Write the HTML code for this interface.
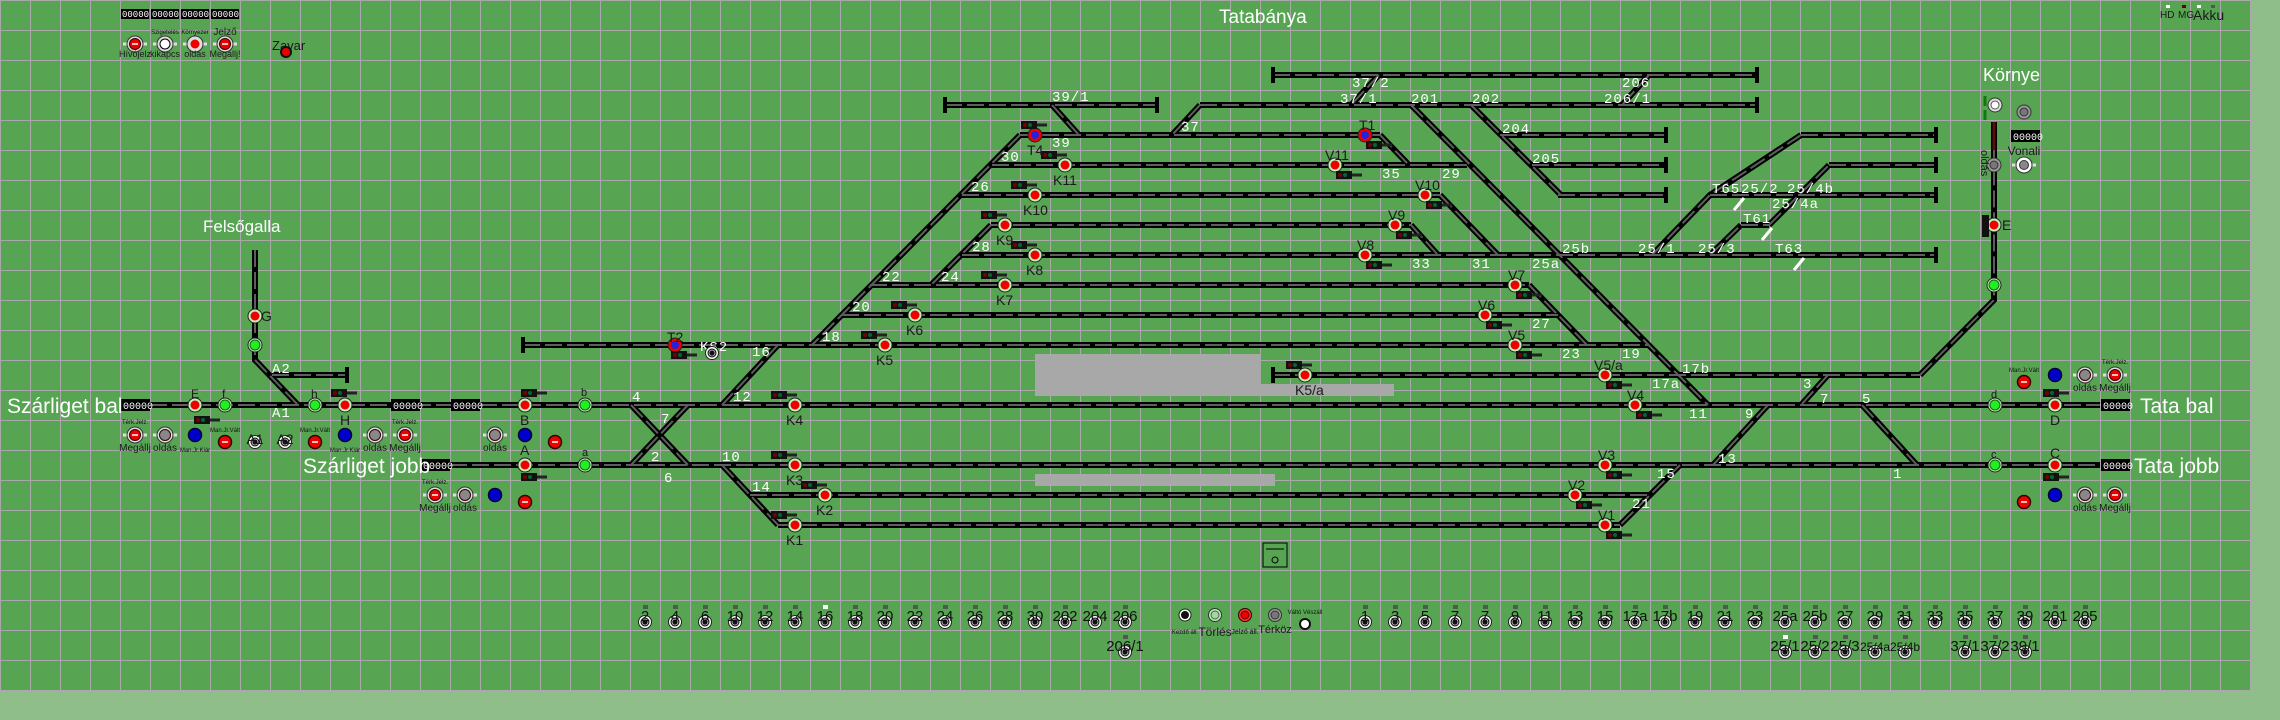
<!DOCTYPE html>
<html><head><meta charset="utf-8"><style>
html,body{margin:0;padding:0;background:#8fbe8a;width:2280px;height:720px;overflow:hidden}
svg{display:block}
.w{fill:#fff;font-family:"Liberation Mono",monospace;font-size:14px;letter-spacing:1px}
.s{fill:#1a1a1a;font-family:"Liberation Sans",sans-serif;font-size:14px}
.n{fill:#111;font-family:"Liberation Sans",sans-serif;font-size:15px;text-anchor:middle}
.t{fill:#111;font-family:"Liberation Sans",sans-serif;font-size:6px;text-anchor:middle}
.L{fill:#fff;font-family:"Liberation Sans",sans-serif;font-size:21px}
.c{fill:#fff;font-family:"Liberation Mono",monospace;font-size:10px}
</style></head><body>
<svg width="2280" height="720" viewBox="0 0 2280 720" xmlns="http://www.w3.org/2000/svg">
<defs>
<pattern id="gp" width="30" height="30" patternUnits="userSpaceOnUse">
<rect width="30" height="30" fill="#57a553"/>
<path d="M0 0H30M0 0V30" stroke="#a9a9a9" stroke-width="2" fill="none"/>
</pattern>
<g id="trk" fill="none">
<path d="M150 405H2100M450 465H2100M1273 75H1757M945 105H1157M1200 105H1757M1020 135H1380M1500 135H1666M1801 135H1936M992 165H1467M1532 165H1666M1829 165H1936M962 195H1440M1558 195H1666M1710 195H1936M991 225H1411M1741 225H1769M962 255H1936M870 285H1529M842 315H1558M523 345H1648M1273 375H1920M272 375H347M750 495H1650M778 525H1620"/>
<path d="M1052 105L1079 135M1200 105L1172 135M1379 75L1351 105M1649 75L1622 105M1020 135L812 345M991 225L931 285M778 345L722 405M1380 135L1409 165M1411 105L1708 405M1471 105L1561 195M1440 195L1498 255M1411 225L1438 255M1529 285L1587 345M1652 255L1710 195L1801 135M1710 255L1741 225M1769 225L1829 165M1920 375L1994 300V122M1828 375L1801 405M1768 405L1713 465M1862 405L1917 465M1680 465L1620 525M722 465L778 525M631 405L688 465M688 405L631 465M255 250V360L298 405"/>
</g>
<g id="sr"><circle r="7" fill="#bff0b8" stroke="#222" stroke-width="1"/><circle r="4.5" fill="#e00"/></g>
<g id="sg"><circle r="7" fill="#bff0b8" stroke="#222" stroke-width="1"/><circle r="5" fill="#2e2" stroke="#161" stroke-width="1"/></g>
<g id="sb"><circle r="7" fill="#e00" stroke="#222" stroke-width="1"/><circle r="4" fill="#22d"/></g>
<g id="hd"><rect x="-9" y="-4" width="16" height="8" fill="#111"/><rect x="7" y="-1.5" width="10" height="3" fill="#222"/><circle cx="-5" cy="0" r="2" fill="#700"/><circle cx="0" cy="0" r="2" fill="#063"/></g>
<g id="bt"><circle r="6.5" fill="#fff" stroke="#222" stroke-width="1"/><circle r="4.5" fill="#111"/><circle r="3" fill="none" stroke="#ccc" stroke-width="0.8"/></g>
<g id="rs"><path d="M-12 0H12" stroke="#ddd" stroke-width="3"/><circle r="8" fill="#ddd" stroke="#333" stroke-width="1"/><circle r="5.5" fill="#e00" stroke="#300" stroke-width="1"/><path d="M-3 0H3" stroke="#fff" stroke-width="1.5"/></g>
<g id="gs"><path d="M-12 0H12" stroke="#ddd" stroke-width="3"/><circle r="8" fill="#ddd" stroke="#333" stroke-width="1"/><circle r="5.5" fill="#888" stroke="#300" stroke-width="1"/></g>
<g id="bl"><circle r="6.5" fill="#00c" stroke="#003" stroke-width="1.5"/></g>
<g id="rr"><circle r="6.5" fill="#e00" stroke="#300" stroke-width="1.5"/><path d="M-3 0H3" stroke="#fff" stroke-width="1.5"/></g>
</defs>
<rect x="0" y="0" width="2251" height="691" fill="url(#gp)"/>
<rect x="0" y="690" width="2251" height="1" fill="#a9a9a9"/>
<rect x="2250" y="0" width="1" height="691" fill="#a9a9a9"/>

<rect x="1035" y="354" width="226" height="42" fill="#a8a8a8"/>
<rect x="1261" y="384" width="133" height="12" fill="#a8a8a8"/>
<rect x="1035" y="474" width="240" height="12" fill="#a8a8a8"/>

<use href="#trk" stroke="#000" stroke-width="6"/>
<use href="#trk" stroke="#5e5e5e" stroke-width="2" stroke-dasharray="17 5"/>
<path d="M1994 122V150" stroke="#5a0e0e" stroke-width="3"/>

<g fill="#000">
<rect x="1271" y="67" width="4" height="16"/><rect x="1755" y="67" width="4" height="16"/>
<rect x="943" y="97" width="4" height="16"/><rect x="1155" y="97" width="4" height="16"/><rect x="1755" y="97" width="4" height="16"/>
<rect x="1664" y="127" width="4" height="16"/><rect x="1934" y="127" width="4" height="16"/>
<rect x="1664" y="157" width="4" height="16"/><rect x="1934" y="157" width="4" height="16"/>
<rect x="1664" y="187" width="4" height="16"/><rect x="1934" y="187" width="4" height="16"/>
<rect x="1934" y="247" width="4" height="16"/>
<rect x="521" y="337" width="4" height="16"/><rect x="1271" y="367" width="4" height="16"/><rect x="345" y="367" width="4" height="16"/>
</g>

<g fill="#000">
<rect x="121" y="399" width="29" height="12"/><rect x="391" y="399" width="29" height="12"/><rect x="451" y="399" width="29" height="12"/>
<rect x="421" y="459" width="29" height="12"/><rect x="2101" y="399" width="29" height="12"/><rect x="2101" y="459" width="29" height="12"/>
<rect x="121" y="9" width="28" height="10"/><rect x="151" y="9" width="28" height="10"/><rect x="181" y="9" width="28" height="10"/><rect x="211" y="9" width="28" height="10"/>
<rect x="2011" y="130" width="29" height="12"/>
</g>
<g class="c">
<text x="123" y="409">00000</text><text x="393" y="409">00000</text><text x="453" y="409">00000</text><text x="423" y="469">00000</text>
<text x="2103" y="409">00000</text><text x="2103" y="469">00000</text><text x="2013" y="140">00000</text>
<text x="122" y="17" style="font-size:9px">00000</text><text x="152" y="17" style="font-size:9px">00000</text><text x="182" y="17" style="font-size:9px">00000</text><text x="212" y="17" style="font-size:9px">00000</text>
</g>

<text class="L" x="7" y="413">Szárliget bal</text>
<text class="L" x="303" y="473">Szárliget jobb</text>
<text class="L" x="2140" y="413">Tata bal</text>
<text class="L" x="2134" y="473">Tata jobb</text>
<text class="L" x="1219" y="23" style="font-size:19px">Tatabánya</text>
<text class="L" x="1983" y="81" style="font-size:18px">Környe</text>
<text class="L" x="203" y="232" style="font-size:17px">Felsőgalla</text>

<g class="w">
<text x="272" y="373">A2</text><text x="272" y="417">A1</text>
<text x="632" y="401">4</text><text x="661" y="423">7</text><text x="651" y="461">2</text><text x="664" y="482">6</text>
<text x="733" y="401">12</text><text x="722" y="461">10</text><text x="752" y="491">14</text><text x="752" y="356">16</text>
<text x="822" y="341">18</text><text x="852" y="311">20</text><text x="882" y="281">22</text><text x="941" y="281">24</text>
<text x="972" y="251">28</text><text x="971" y="191">26</text><text x="1001" y="161">30</text><text x="1052" y="147">39</text>
<text x="1052" y="101">39/1</text><text x="1181" y="131">37</text><text x="1352" y="87">37/2</text><text x="1340" y="103">37/1</text>
<text x="1411" y="103">201</text><text x="1472" y="103">202</text><text x="1502" y="133">204</text><text x="1532" y="163">205</text>
<text x="1382" y="178">35</text><text x="1442" y="178">29</text><text x="1412" y="268">33</text><text x="1472" y="268">31</text>
<text x="1532" y="268">25a</text><text x="1562" y="253">25b</text><text x="1532" y="328">27</text><text x="1562" y="358">23</text>
<text x="1622" y="358">19</text><text x="1682" y="373">17b</text><text x="1652" y="388">17a</text><text x="1689" y="418">11</text>
<text x="1745" y="418">9</text><text x="1803" y="388">3</text><text x="1820" y="403">7</text><text x="1862" y="403">5</text>
<text x="1718" y="463">13</text><text x="1657" y="478">15</text><text x="1893" y="478">1</text><text x="1632" y="508">21</text>
<text x="1622" y="87">206</text><text x="1604" y="103">206/1</text>
<text x="1638" y="253">25/1</text><text x="1698" y="253">25/3</text><text x="1741" y="193">25/2</text><text x="1787" y="193">25/4b</text><text x="1772" y="208">25/4a</text>
<text x="1712" y="193">T65</text><text x="1743" y="223">T61</text><text x="1775" y="253">T63</text>
<text x="700" y="351">KS2</text>
</g>
<g stroke="#fff" stroke-width="3"><path d="M1744 198L1734 210M1772 228L1762 240M1804 258L1794 270"/></g>

<use href="#sr" x="195" y="405"/><use href="#hd" x="203" y="420"/>
<use href="#sg" x="225" y="405"/><use href="#sg" x="315" y="405"/>
<use href="#sr" x="345" y="405"/><use href="#hd" x="340" y="393"/>
<use href="#sr" x="255" y="316"/><use href="#sg" x="255" y="345"/>
<use href="#sr" x="525" y="405"/><use href="#hd" x="530" y="393"/><use href="#sg" x="585" y="405"/>
<use href="#sr" x="525" y="465"/><use href="#hd" x="530" y="477"/><use href="#sg" x="585" y="465"/>
<use href="#sb" x="675" y="345"/><use href="#hd" x="680" y="355"/><use href="#bt" x="712" y="353"/>
<use href="#sr" x="885" y="345"/><use href="#hd" x="870" y="335"/>
<use href="#sr" x="795" y="405"/><use href="#hd" x="780" y="395"/>
<use href="#sr" x="795" y="465"/><use href="#hd" x="780" y="455"/>
<use href="#sr" x="825" y="495"/><use href="#hd" x="810" y="485"/>
<use href="#sr" x="795" y="525"/><use href="#hd" x="780" y="515"/>
<use href="#sr" x="915" y="315"/><use href="#hd" x="900" y="305"/>
<use href="#sr" x="1005" y="285"/><use href="#hd" x="990" y="275"/>
<use href="#sr" x="1035" y="255"/><use href="#hd" x="1020" y="245"/>
<use href="#sr" x="1005" y="225"/><use href="#hd" x="990" y="215"/>
<use href="#sr" x="1035" y="195"/><use href="#hd" x="1020" y="185"/>
<use href="#sr" x="1065" y="165"/><use href="#hd" x="1050" y="155"/>
<use href="#sb" x="1035" y="135"/><use href="#hd" x="1030" y="125"/>
<use href="#sb" x="1365" y="135"/><use href="#hd" x="1375" y="145"/>
<use href="#sr" x="1335" y="165"/><use href="#hd" x="1345" y="175"/>
<use href="#sr" x="1425" y="195"/><use href="#hd" x="1435" y="205"/>
<use href="#sr" x="1395" y="225"/><use href="#hd" x="1405" y="235"/>
<use href="#sr" x="1365" y="255"/><use href="#hd" x="1375" y="265"/>
<use href="#sr" x="1515" y="285"/><use href="#hd" x="1525" y="295"/>
<use href="#sr" x="1485" y="315"/><use href="#hd" x="1495" y="325"/>
<use href="#sr" x="1515" y="345"/><use href="#hd" x="1525" y="355"/>
<use href="#sr" x="1605" y="375"/><use href="#hd" x="1615" y="385"/>
<use href="#sr" x="1635" y="405"/><use href="#hd" x="1645" y="415"/>
<use href="#sr" x="1605" y="465"/><use href="#hd" x="1615" y="475"/>
<use href="#sr" x="1575" y="495"/><use href="#hd" x="1585" y="505"/>
<use href="#sr" x="1605" y="525"/><use href="#hd" x="1615" y="535"/>
<use href="#sr" x="1305" y="375"/><use href="#hd" x="1295" y="365"/>
<use href="#sg" x="1995" y="405"/><use href="#sr" x="2055" y="405"/><use href="#hd" x="2052" y="393"/>
<use href="#sg" x="1995" y="465"/><use href="#sr" x="2055" y="465"/><use href="#hd" x="2052" y="477"/>
<use href="#sr" x="1994" y="225"/><rect x="1982" y="215" width="7" height="22" fill="#111"/>
<use href="#sg" x="1994" y="285"/>

<g class="s">
<text x="191" y="398" style="font-size:12px">E</text><text x="222" y="398" style="font-size:12px">f</text><text x="311" y="398" style="font-size:12px">h</text>
<text x="340" y="425">H</text><text x="261" y="321">G</text>
<text x="520" y="425">B</text><text x="581" y="396" style="font-size:11px">b</text><text x="520" y="455">A</text><text x="582" y="456" style="font-size:11px">a</text>
<text x="667" y="342">T2</text><text x="876" y="365">K5</text><text x="786" y="425">K4</text><text x="786" y="485">K3</text><text x="816" y="515">K2</text><text x="786" y="545">K1</text>
<text x="906" y="335">K6</text><text x="996" y="305">K7</text><text x="1026" y="275">K8</text><text x="996" y="245">K9</text><text x="1023" y="215">K10</text><text x="1053" y="185">K11</text><text x="1027" y="155">T4</text>
<text x="1359" y="130">T1</text><text x="1325" y="160">V11</text><text x="1415" y="190">V10</text><text x="1388" y="220">V9</text><text x="1357" y="250">V8</text>
<text x="1508" y="280">V7</text><text x="1478" y="310">V6</text><text x="1508" y="340">V5</text><text x="1594" y="370">V5/a</text><text x="1627" y="400">V4</text>
<text x="1598" y="460">V3</text><text x="1568" y="490">V2</text><text x="1598" y="520">V1</text><text x="1295" y="395">K5/a</text>
<text x="1991" y="398" style="font-size:11px">d</text><text x="2050" y="425">D</text><text x="1991" y="458" style="font-size:11px">c</text><text x="2050" y="458">C</text>
<text x="2002" y="230">E</text>
</g>

<use href="#rs" x="135" y="435"/><use href="#gs" x="165" y="435"/><use href="#bl" x="195" y="435"/><use href="#rr" x="225" y="442"/>
<use href="#bt" x="255" y="442"/><use href="#bt" x="285" y="442"/><use href="#rr" x="315" y="442"/><use href="#bl" x="345" y="435"/>
<use href="#gs" x="375" y="435"/><use href="#rs" x="405" y="435"/><use href="#gs" x="495" y="435"/><use href="#bl" x="525" y="435"/><use href="#rr" x="555" y="442"/>
<use href="#rs" x="435" y="495"/><use href="#gs" x="465" y="495"/><use href="#bl" x="495" y="495"/><use href="#rr" x="525" y="502"/>
<use href="#rr" x="2024" y="382"/><use href="#bl" x="2055" y="375"/><use href="#gs" x="2085" y="375"/><use href="#rs" x="2115" y="375"/>
<use href="#rr" x="2024" y="502"/><use href="#bl" x="2055" y="495"/><use href="#gs" x="2085" y="495"/><use href="#rs" x="2115" y="495"/>
<g class="s" style="font-size:10px;text-anchor:middle">
<text x="135" y="451">Megállj</text><text x="165" y="451">oldás</text><text x="375" y="451">oldás</text><text x="405" y="451">Megállj</text><text x="495" y="451">oldás</text>
<text x="435" y="511">Megállj</text><text x="465" y="511">oldás</text><text x="2085" y="391">oldás</text><text x="2115" y="391">Megállj</text>
<text x="2085" y="511">oldás</text><text x="2115" y="511">Megállj</text>
<text x="255" y="444" style="font-size:14px">A1</text><text x="285" y="444" style="font-size:14px">A2</text>
</g>
<g class="t"><text x="135" y="424">Térk.Jelz.</text><text x="225" y="432">Man.Jr.Vált</text><text x="195" y="452">Man.Jr.Kiár</text><text x="315" y="432">Man.Jr.Vált</text><text x="345" y="452">Man.Jr.Kiár</text><text x="405" y="424">Térk.Jelz.</text><text x="435" y="484">Térk.Jelz.</text><text x="2115" y="364">Térk.Jelz.</text><text x="2024" y="372">Man.Jr.Vált</text></g>

<use href="#rs" x="135" y="44"/><g transform="translate(165 44)"><path d="M-12 0H12" stroke="#ddd" stroke-width="3"/><circle r="8" fill="#ddd" stroke="#333"/><circle r="5" fill="#fff" stroke="#000"/></g>
<g transform="translate(195 44)"><path d="M-12 0H12" stroke="#ddd" stroke-width="3"/><circle r="8" fill="#ddd" stroke="#333"/><circle r="4.5" fill="#e00"/></g>
<use href="#rs" x="225" y="44"/>
<g class="s" style="font-size:9px;text-anchor:middle"><text x="135" y="57">Hívójelz</text><text x="165" y="57">kikapcs</text><text x="195" y="57">oldás</text><text x="225" y="57">Megállj!</text><text x="225" y="35" style="font-size:10px">Jelző</text></g>
<g class="t"><text x="165" y="34">Szigetelés</text><text x="195" y="34">Környezer</text></g>
<text class="s" x="272" y="50" style="font-size:13px">Zavar</text><circle cx="286" cy="52" r="5" fill="#e00" stroke="#111" stroke-width="2"/>
<g class="s" style="font-size:10px"><text x="2160" y="18">HD</text><text x="2178" y="18">MG</text><text x="2193" y="20" style="font-size:14px">Akku</text></g>
<rect x="2166" y="5" width="4" height="3" fill="#fff"/><rect x="2182" y="5" width="4" height="3" fill="#600"/><rect x="2197" y="5" width="4" height="3" fill="#fff"/><rect x="2211" y="5" width="4" height="3" fill="#555"/>

<g transform="translate(1995 105)"><circle r="7" fill="#ddd" stroke="#333"/><circle r="4" fill="#fff" stroke="#555"/></g>
<g transform="translate(2024 112)"><circle r="7" fill="#999" stroke="#333"/><circle r="4" fill="#777" stroke="#333"/></g>
<g transform="translate(2024 165)"><path d="M-12 0H12" stroke="#ddd" stroke-width="3"/><circle r="8" fill="#fff" stroke="#333"/><circle r="4.5" fill="#888" stroke="#333"/></g>
<g transform="translate(1994 165)"><circle r="7" fill="#999" stroke="#333"/><circle r="4" fill="#777" stroke="#333"/></g>
<text class="s" x="2024" y="155" style="font-size:12px;text-anchor:middle">Vonali</text>
<text class="s" transform="translate(1981 150) rotate(90)" style="font-size:11px">oldás</text>
<path d="M1985 96v10M1985 110v10" stroke="#171" stroke-width="3"/>

<rect x="1263" y="543" width="24" height="24" fill="none" stroke="#000" stroke-width="1"/><path d="M1266 549H1284" stroke="#000"/><circle cx="1275" cy="560" r="3" fill="none" stroke="#000"/>

<g>
<use href="#bt" x="645" y="622"/><use href="#bt" x="675" y="622"/><use href="#bt" x="705" y="622"/><use href="#bt" x="735" y="622"/><use href="#bt" x="765" y="622"/><use href="#bt" x="795" y="622"/><use href="#bt" x="825" y="622"/><use href="#bt" x="855" y="622"/><use href="#bt" x="885" y="622"/><use href="#bt" x="915" y="622"/><use href="#bt" x="945" y="622"/><use href="#bt" x="975" y="622"/><use href="#bt" x="1005" y="622"/><use href="#bt" x="1035" y="622"/><use href="#bt" x="1065" y="622"/><use href="#bt" x="1095" y="622"/><use href="#bt" x="1125" y="622"/>
<use href="#bt" x="1125" y="652"/>
<use href="#bt" x="1365" y="622"/><use href="#bt" x="1395" y="622"/><use href="#bt" x="1425" y="622"/><use href="#bt" x="1455" y="622"/><use href="#bt" x="1485" y="622"/><use href="#bt" x="1515" y="622"/><use href="#bt" x="1545" y="622"/><use href="#bt" x="1575" y="622"/><use href="#bt" x="1605" y="622"/><use href="#bt" x="1635" y="622"/><use href="#bt" x="1665" y="622"/><use href="#bt" x="1695" y="622"/><use href="#bt" x="1725" y="622"/><use href="#bt" x="1755" y="622"/><use href="#bt" x="1785" y="622"/><use href="#bt" x="1815" y="622"/><use href="#bt" x="1845" y="622"/><use href="#bt" x="1875" y="622"/><use href="#bt" x="1905" y="622"/><use href="#bt" x="1935" y="622"/><use href="#bt" x="1965" y="622"/><use href="#bt" x="1995" y="622"/><use href="#bt" x="2025" y="622"/><use href="#bt" x="2055" y="622"/><use href="#bt" x="2085" y="622"/>
<use href="#bt" x="1785" y="652"/><use href="#bt" x="1815" y="652"/><use href="#bt" x="1845" y="652"/><use href="#bt" x="1875" y="652"/><use href="#bt" x="1905" y="652"/><use href="#bt" x="1965" y="652"/><use href="#bt" x="1995" y="652"/><use href="#bt" x="2025" y="652"/>
</g>
<g class="n">
<text x="645" y="621">2</text><text x="675" y="621">4</text><text x="705" y="621">6</text><text x="735" y="621">10</text><text x="765" y="621">12</text><text x="795" y="621">14</text><text x="825" y="621">16</text><text x="855" y="621">18</text><text x="885" y="621">20</text><text x="915" y="621">22</text><text x="945" y="621">24</text><text x="975" y="621">26</text><text x="1005" y="621">28</text><text x="1035" y="621">30</text><text x="1065" y="621">202</text><text x="1095" y="621">204</text><text x="1125" y="621">206</text>
<text x="1125" y="651">206/1</text>
<text x="1365" y="621">1</text><text x="1395" y="621">3</text><text x="1425" y="621">5</text><text x="1455" y="621">7</text><text x="1485" y="621">7</text><text x="1515" y="621">9</text><text x="1545" y="621">11</text><text x="1575" y="621">13</text><text x="1605" y="621">15</text><text x="1635" y="621">17a</text><text x="1665" y="621">17b</text><text x="1695" y="621">19</text><text x="1725" y="621">21</text><text x="1755" y="621">23</text><text x="1785" y="621">25a</text><text x="1815" y="621">25b</text><text x="1845" y="621">27</text><text x="1875" y="621">29</text><text x="1905" y="621">31</text><text x="1935" y="621">33</text><text x="1965" y="621">35</text><text x="1995" y="621">37</text><text x="2025" y="621">39</text><text x="2055" y="621">201</text><text x="2085" y="621">205</text>
<text x="1785" y="651">25/1</text><text x="1815" y="651">25/2</text><text x="1845" y="651">25/3</text><text x="1875" y="651" style="font-size:12px">25/4a</text><text x="1905" y="651" style="font-size:12px">25/4b</text><text x="1965" y="651">37/1</text><text x="1995" y="651">37/2</text><text x="2025" y="651">39/1</text>
</g>
<g transform="translate(1185 615)"><circle r="6" fill="#fff" stroke="#222"/><circle r="4" fill="#111"/></g>
<g transform="translate(1215 615)"><circle r="6.5" fill="#bfeabb" stroke="#333"/><circle r="4" fill="#9d9" stroke="#555"/></g>
<g transform="translate(1245 615)"><circle r="6.5" fill="#f33" stroke="#300"/><circle r="4" fill="#e00" stroke="#600"/></g>
<g transform="translate(1275 615)"><circle r="6.5" fill="#999" stroke="#333"/><circle r="4" fill="#777" stroke="#333"/></g>
<g transform="translate(1305 624)"><circle r="6" fill="#111"/><circle r="4" fill="#fff"/></g>
<text class="t" x="1185" y="634">Kezdő áll.</text><text class="s" x="1215" y="636" style="font-size:12px;text-anchor:middle">Törlés</text><text class="t" x="1245" y="634" style="font-size:7px">Jelző áll.</text><text class="s" x="1275" y="633" style="font-size:11px;text-anchor:middle">Térköz</text><text class="t" x="1305" y="614">Váltó Vészáll</text>
<g fill="#555">
<rect x="643" y="605" width="5" height="4"/><rect x="673" y="605" width="5" height="4"/><rect x="703" y="605" width="5" height="4"/><rect x="733" y="605" width="5" height="4"/><rect x="763" y="605" width="5" height="4"/><rect x="793" y="605" width="5" height="4"/><rect x="853" y="605" width="5" height="4"/><rect x="883" y="605" width="5" height="4"/><rect x="913" y="605" width="5" height="4"/><rect x="943" y="605" width="5" height="4"/><rect x="973" y="605" width="5" height="4"/><rect x="1003" y="605" width="5" height="4"/><rect x="1033" y="605" width="5" height="4"/><rect x="1063" y="605" width="5" height="4"/><rect x="1093" y="605" width="5" height="4"/><rect x="1123" y="605" width="5" height="4"/><rect x="1123" y="635" width="5" height="4"/>
<rect x="1363" y="605" width="5" height="4"/><rect x="1393" y="605" width="5" height="4"/><rect x="1423" y="605" width="5" height="4"/><rect x="1453" y="605" width="5" height="4"/><rect x="1483" y="605" width="5" height="4"/><rect x="1513" y="605" width="5" height="4"/><rect x="1543" y="605" width="5" height="4"/><rect x="1573" y="605" width="5" height="4"/><rect x="1603" y="605" width="5" height="4"/><rect x="1633" y="605" width="5" height="4"/><rect x="1663" y="605" width="5" height="4"/><rect x="1693" y="605" width="5" height="4"/><rect x="1723" y="605" width="5" height="4"/><rect x="1753" y="605" width="5" height="4"/><rect x="1783" y="605" width="5" height="4"/><rect x="1813" y="605" width="5" height="4"/><rect x="1843" y="605" width="5" height="4"/><rect x="1873" y="605" width="5" height="4"/><rect x="1903" y="605" width="5" height="4"/><rect x="1933" y="605" width="5" height="4"/><rect x="1963" y="605" width="5" height="4"/><rect x="1993" y="605" width="5" height="4"/><rect x="2023" y="605" width="5" height="4"/><rect x="2053" y="605" width="5" height="4"/><rect x="2083" y="605" width="5" height="4"/>
<rect x="1813" y="635" width="5" height="4"/><rect x="1843" y="635" width="5" height="4"/><rect x="1873" y="635" width="5" height="4"/><rect x="1903" y="635" width="5" height="4"/><rect x="1963" y="635" width="5" height="4"/><rect x="1993" y="635" width="5" height="4"/><rect x="2023" y="635" width="5" height="4"/>
</g>
<rect x="823" y="605" width="5" height="4" fill="#fff"/><rect x="1783" y="635" width="5" height="4" fill="#fff"/>
</svg>
</body></html>
